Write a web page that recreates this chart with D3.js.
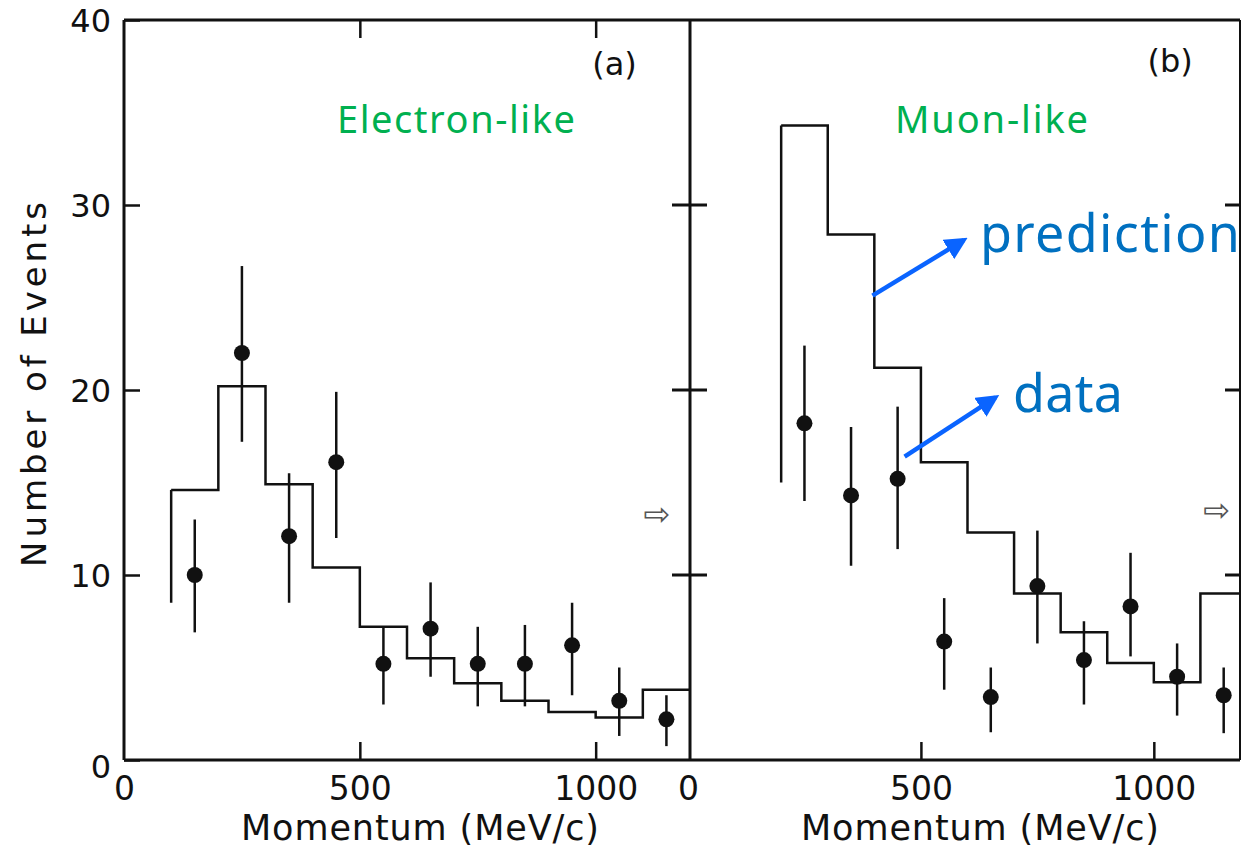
<!DOCTYPE html>
<html>
<head>
<meta charset="utf-8">
<script src="https://cdn.jsdelivr.net/npm/d3@7"></script>
<style>
  body { margin: 0; background: #fff; }
  svg { display: block; }
</style>
</head>
<body>
<svg id="chart" width="1245" height="847"></svg>
<script>
// histogram predictions (100 MeV/c bins, value per bin, given by left edge)
const elecEdges = [100, 200, 300, 400, 500, 600, 700, 800, 900, 1000, 1100];
const elecPred  = [14.6, 20.2, 14.9, 10.4, 7.2, 5.5, 4.15, 3.2, 2.6, 2.3, 3.8];
const elecEdgeLow = 8.5;   // the left edge of the histogram fades out here

const muonEdges = [200, 300, 400, 500, 600, 700, 800, 900, 1000, 1100];
const muonPred  = [34.3, 28.4, 21.2, 16.1, 12.3, 9.0, 6.9, 5.25, 4.2, 9.0];
const muonEdgeLow = 15;

// data points with error bars
const elecCenters = [150, 250, 350, 450, 550, 650, 750, 850, 950, 1050, 1150];
const elecData = [10.0, 22.0, 12.1, 16.1, 5.2, 7.1, 5.2, 5.2, 6.2, 3.2, 2.2];
const elecLo   = [6.9, 17.2, 8.5, 12.0, 3.0, 4.5, 2.9, 2.9, 3.5, 1.3, 0.75];
const elecHi   = [13.0, 26.7, 15.5, 19.9, 7.2, 9.6, 7.2, 7.3, 8.5, 5.0, 3.5];

const muonCenters = [250, 350, 450, 550, 650, 750, 850, 950, 1050, 1150];
const muonData = [18.2, 14.3, 15.2, 6.4, 3.4, 9.4, 5.4, 8.3, 4.5, 3.5];
const muonLo   = [14.0, 10.5, 11.4, 3.8, 1.5, 6.3, 3.0, 5.6, 2.4, 1.45];
const muonHi   = [22.4, 18.0, 19.1, 8.75, 5.0, 12.4, 7.5, 11.2, 6.3, 5.0];

const yTicks = [0, 10, 20, 30, 40];
const xTicks = [0, 500, 1000];

const svg = d3.select('#chart');
const ink = '#111';
const tickFont = '"DejaVu Sans", sans-serif';

// scales
const y = d3.scaleLinear().domain([0, 40]).range([760, 20]);
const xL = d3.scaleLinear().domain([0, 1200]).range([124, 690]);
const xR = d3.scaleLinear().domain([0, 1185]).range([688, 1240]);

svg.append('rect').attr('width', 1245).attr('height', 847).attr('fill', '#fff');

// panel frames
const frame = svg.append('g').attr('stroke', ink).attr('stroke-width', 3).attr('fill', 'none');
frame.append('line').attr('x1', xL(0)).attr('x2', xR(1185)).attr('y1', y(40)).attr('y2', y(40));
frame.append('line').attr('x1', xL(0)).attr('x2', xR(1185)).attr('y1', y(0)).attr('y2', y(0));
frame.append('line').attr('x1', xL(0)).attr('x2', xL(0)).attr('y1', y(0)).attr('y2', y(40));
frame.append('line').attr('x1', xL(1200)).attr('x2', xL(1200)).attr('y1', y(0)).attr('y2', y(40));
frame.append('line').attr('x1', xR(1185)).attr('x2', xR(1185)).attr('y1', y(0)).attr('y2', y(40))
  .attr('stroke-width', 2);

// y axis (left)
const yAxis = svg.append('g')
  .attr('transform', `translate(${xL(0)},0)`)
  .call(d3.axisLeft(y).tickValues(yTicks).tickSizeInner(-16).tickSizeOuter(0).tickPadding(13));
yAxis.select('.domain').remove();
yAxis.selectAll('.tick line').attr('stroke', ink).attr('stroke-width', 2.5);
yAxis.selectAll('.tick text')
  .attr('font-family', tickFont).attr('font-size', 32).attr('fill', ink)
  .attr('dy', d => d === 0 ? '0.55em' : '0.36em');

// ticks on the divider (both sides) and on the right border
[10, 20, 30].forEach(v => {
  svg.append('line')
    .attr('x1', xL(1200) - 18).attr('x2', xL(1200) + 17)
    .attr('y1', y(v)).attr('y2', y(v))
    .attr('stroke', ink).attr('stroke-width', 3);
  svg.append('line')
    .attr('x1', xR(1185) - 15).attr('x2', xR(1185))
    .attr('y1', y(v)).attr('y2', y(v))
    .attr('stroke', ink).attr('stroke-width', 3);
});

// x axes
function bottomAxis(x) {
  const g = svg.append('g')
    .attr('transform', `translate(0,${y(0)})`)
    .call(d3.axisBottom(x).tickValues(xTicks).tickFormat(d3.format('d'))
      .tickSizeInner(-18).tickSizeOuter(0).tickPadding(17));
  g.select('.domain').remove();
  g.selectAll('.tick line').attr('stroke', ink).attr('stroke-width', 2.5)
    .attr('opacity', d => d === 0 ? 0 : 1);
  g.selectAll('.tick text')
    .attr('font-family', tickFont).attr('font-size', 33).attr('fill', ink);
  return g;
}
bottomAxis(xL);
bottomAxis(xR);

const topAxis = svg.append('g')
  .attr('transform', `translate(0,${y(40)})`)
  .call(d3.axisTop(xL).tickValues([500, 1000]).tickSizeInner(-18).tickSizeOuter(0).tickFormat(''));
topAxis.select('.domain').remove();
topAxis.selectAll('.tick line').attr('stroke', ink).attr('stroke-width', 2.5);

// axis titles
svg.append('text')
  .attr('x', 420).attr('y', 840)
  .attr('text-anchor', 'middle')
  .attr('font-family', tickFont).attr('font-size', 35).attr('fill', ink)
  .attr('textLength', 358)
  .text('Momentum (MeV/c)');
svg.append('text')
  .attr('x', 980).attr('y', 840)
  .attr('text-anchor', 'middle')
  .attr('font-family', tickFont).attr('font-size', 35).attr('fill', ink)
  .attr('textLength', 358)
  .text('Momentum (MeV/c)');
svg.append('text')
  .attr('transform', `translate(46,${y(20.3)}) rotate(-90)`)
  .attr('text-anchor', 'middle')
  .attr('font-family', tickFont).attr('font-size', 34).attr('fill', ink)
  .attr('textLength', 365)
  .text('Number of Events');

// panel tags
svg.append('text').attr('x', xL(1040)).attr('y', 75).attr('text-anchor', 'middle')
  .attr('font-family', tickFont).attr('font-size', 32).attr('fill', ink).text('(a)');
svg.append('text').attr('x', xR(1035)).attr('y', 72).attr('text-anchor', 'middle')
  .attr('font-family', tickFont).attr('font-size', 32).attr('fill', ink).text('(b)');

// little open arrows near the right edge of each panel
svg.append('text').attr('x', xL(1130)).attr('y', y(13.3)).attr('text-anchor', 'middle')
  .attr('dy', '0.35em').attr('font-family', tickFont).attr('font-size', 32).attr('fill', '#555')
  .text('\u21E8');
svg.append('text').attr('x', xR(1135)).attr('y', y(13.5)).attr('text-anchor', 'middle')
  .attr('dy', '0.35em').attr('font-family', tickFont).attr('font-size', 32).attr('fill', '#555')
  .text('\u21E8');

// prediction histograms
function drawHist(x, edges, vals, lowEnd, endX) {
  const pts = edges.map((e, i) => [e, vals[i]]);
  pts.push([endX, vals[vals.length - 1]]);
  const line = d3.line().x(d => x(d[0])).y(d => y(d[1])).curve(d3.curveStepAfter);
  svg.append('path')
    .attr('d', line(pts))
    .attr('fill', 'none').attr('stroke', ink).attr('stroke-width', 2.5);
  svg.append('line')
    .attr('x1', x(edges[0])).attr('x2', x(edges[0]))
    .attr('y1', y(vals[0])).attr('y2', y(lowEnd))
    .attr('stroke', ink).attr('stroke-width', 2.5);
}
drawHist(xL, elecEdges, elecPred, elecEdgeLow, 1200);
drawHist(xR, muonEdges, muonPred, muonEdgeLow, 1185);

// data points
function drawPoints(x, centers, vals, lo, hi) {
  const g = svg.append('g');
  const rows = centers.map((c, i) => ({ c, v: vals[i], lo: lo[i], hi: hi[i] }));
  g.selectAll('line.err').data(rows).enter().append('line')
    .attr('class', 'err')
    .attr('x1', d => x(d.c)).attr('x2', d => x(d.c))
    .attr('y1', d => y(d.lo)).attr('y2', d => y(d.hi))
    .attr('stroke', ink).attr('stroke-width', 2.5);
  g.selectAll('circle').data(rows).enter().append('circle')
    .attr('cx', d => x(d.c)).attr('cy', d => y(d.v))
    .attr('r', 8).attr('fill', ink);
}
drawPoints(xL, elecCenters, elecData, elecLo, elecHi);
drawPoints(xR, muonCenters, muonData, muonLo, muonHi);

// coloured labels
const labelFont = '"Noto Sans", "Open Sans", sans-serif';
svg.append('text').attr('x', 337).attr('y', 133)
  .attr('font-family', labelFont).attr('font-size', 38).attr('fill', '#00b050')
  .attr('textLength', 238).text('Electron-like');
svg.append('text').attr('x', 895).attr('y', 133)
  .attr('font-family', labelFont).attr('font-size', 38).attr('fill', '#00b050')
  .attr('textLength', 193).text('Muon-like');
svg.append('text').attr('x', 980).attr('y', 252)
  .attr('font-family', labelFont).attr('font-size', 52).attr('fill', '#0070c0')
  .attr('textLength', 260).text('prediction');
svg.append('text').attr('x', 1013).attr('y', 412)
  .attr('font-family', labelFont).attr('font-size', 52).attr('fill', '#0070c0')
  .attr('textLength', 110).text('data');

// blue pointer arrows
const defs = svg.append('defs');
defs.append('marker')
  .attr('id', 'head').attr('viewBox', '0 0 10 10')
  .attr('refX', 8).attr('refY', 5)
  .attr('markerWidth', 5).attr('markerHeight', 5)
  .attr('orient', 'auto')
  .append('path').attr('d', 'M0,0 L10,5 L0,10 Z').attr('fill', '#0a64ff');

function arrow(x1, y1, x2, y2) {
  svg.append('line')
    .attr('x1', x1).attr('y1', y1).attr('x2', x2).attr('y2', y2)
    .attr('stroke', '#0a64ff').attr('stroke-width', 4.5)
    .attr('marker-end', 'url(#head)');
}
arrow(xR(396), y(25.1), xR(592), y(28.1));
arrow(xR(465), y(16.4), xR(660), y(19.6));
</script>
</body>
</html>
